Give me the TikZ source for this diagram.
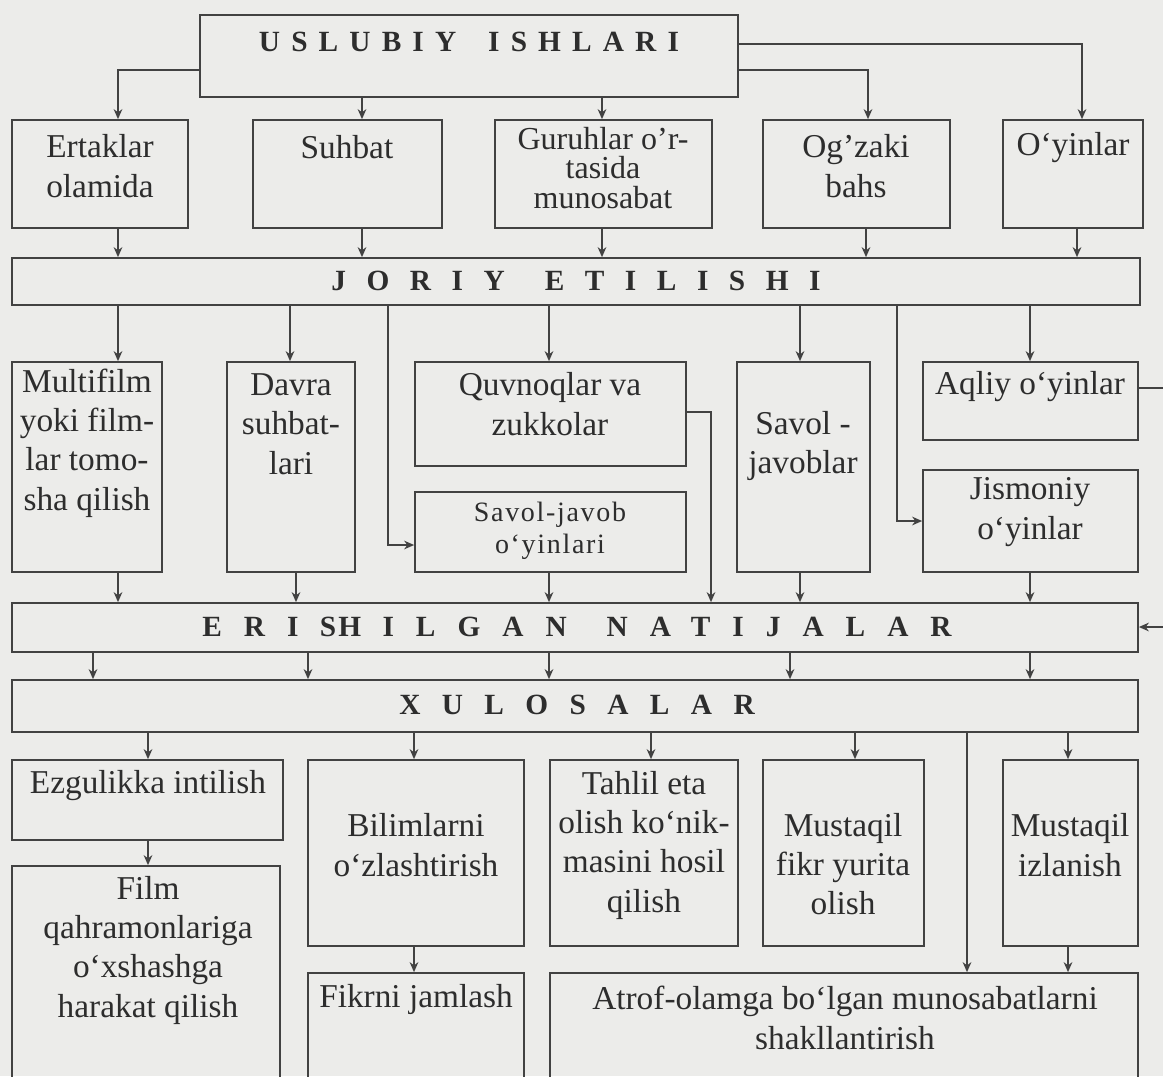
\documentclass[tikz,border=0pt]{standalone}
\usepackage{fontspec}
\setmainfont{Liberation Serif}
\usetikzlibrary{fit,arrows.meta}
\definecolor{paper}{RGB}{236,236,234}
\definecolor{ink}{RGB}{66,66,66}
\definecolor{txt}{RGB}{45,45,45}
\newcommand\ls[2]{{\addfontfeature{LetterSpace=#1}#2}}
\tikzset{every picture/.style={line width=0.75pt},
  box/.style={draw=ink, line width=1.3pt, inner sep=0pt},
  lbl/.style={align=center, text=txt, inner sep=0pt, font=\fontsize{25}{29.5}\selectfont},
  ttl/.style={text=txt, inner sep=0pt, font=\bfseries\fontsize{22}{26}\selectfont},
  ln/.style={draw=ink, line width=1.3pt},
  arr/.style={ln, -{Stealth[length=7.5pt,width=6.5pt]}}}

\begin{document}
\begin{tikzpicture}[x=0.75pt,y=0.75pt,yscale=-1]
\useasboundingbox (0,0) rectangle (1163,1076);
\clip (0,0) rectangle (1163,1076);
\fill[paper] (0,0) rectangle (1163,1076);

%Top box
\node[box, fit={(200,15) (738,97)}] (usl) {};
\node[ttl] (tusl) at (469,42) {\ls{38}{USLUBIY}\hspace{24pt}\ls{38}{ISHLARI}};

%Row 1
\node[box, fit={(12,120) (188,228)}] (ertak) {};
\node[box, fit={(253,120) (442,228)}] (suhb) {};
\node[box, fit={(495,120) (712,228)}] (guruh) {};
\node[box, fit={(763,120) (950,228)}] (ogz) {};
\node[box, fit={(1003,120) (1143,228)}] (oyin) {};
\node[lbl] (tertak) at (100,166) {Ertaklar\\olamida};
\node[lbl] (tsuhb) at (347,147) {Suhbat};
\node[lbl, font=\fontsize{24}{22}\selectfont] (tguruh) at (603,168) {Guruhlar o'r-\\tasida\\munosabat};
\node[lbl] (togz) at (856,166) {Og'zaki\\bahs};
\node[lbl] (toyin) at (1073,148) {O‘yinlar};

%Joriy etilishi
\node[box, fit={(12,258) (1140,305)}] (jor) {};
\node[ttl] (tjor) at (576,281) {\ls{70}{JORIY}\hspace{30pt}\ls{70}{ETILISHI}};

%Row 2
\node[box, fit={(12,362) (162,572)}] (multi) {};
\node[box, fit={(227,362) (355,572)}] (davra) {};
\node[box, fit={(415,362) (686,466)}] (quvn) {};
\node[box, fit={(415,492) (686,572)}] (savj) {};
\node[box, fit={(737,362) (870,572)}] (savl) {};
\node[box, fit={(923,362) (1138,440)}] (aql) {};
\node[box, fit={(923,470) (1138,572)}] (jism) {};
\node[lbl] (tmulti) at (87,443) {Multifilm\\yoki film-\\lar tomo-\\sha qilish};
\node[lbl] (tdavra) at (291,424) {Davra\\suhbat-\\lari};
\node[lbl] (tquvn) at (550,404) {Quvnoqlar va\\zukkolar};
\node[lbl, font=\fontsize{21}{24}\selectfont] (tsavj) at (550,531) {\ls{6}{Savol-javob}\\\ls{6}{o‘yinlari}};
\node[lbl] (tsavl) at (803,446) {Savol -\\javoblar};
\node[lbl] (taql) at (1030,387) {Aqliy o‘yinlar};
\node[lbl] (tjism) at (1030,512) {Jismoniy\\o‘yinlar};

%Erishilgan natijalar
\node[box, fit={(12,603) (1138,652)}] (erish) {};
\node[ttl] (terish) at (577,627) {\ls{75}{ERI}\hspace{16pt}\ls{8}{SH}\hspace{16pt}\ls{75}{ILGAN}\hspace{30pt}\ls{75}{NATIJALAR}};

%Xulosalar
\node[box, fit={(12,680) (1138,732)}] (xul) {};
\node[ttl] (txul) at (577,705) {\ls{73}{XULOSALAR}};

%Row 3
\node[box, fit={(12,760) (283,840)}] (ezgu) {};
\node[box, fit={(308,760) (524,946)}] (bilim) {};
\node[box, fit={(550,760) (738,946)}] (tahl) {};
\node[box, fit={(763,760) (924,946)}] (mfikr) {};
\node[box, fit={(1003,760) (1138,946)}] (mizl) {};
\node[lbl] (tezgu) at (148,786) {Ezgulikka intilish};
\node[lbl] (tbilim) at (416,845) {Bilimlarni\\o‘zlashtirish};
\node[lbl] (ttahl) at (644,845) {Tahlil eta\\olish ko‘nik-\\masini hosil\\qilish};
\node[lbl] (tmfikr) at (843,864) {Mustaqil\\fikr yurita\\olish};
\node[lbl] (tmizl) at (1070,845) {Mustaqil\\izlanish};

%Row 4
\node[box, fit={(12,866) (280,1095)}] (film) {};
\node[box, fit={(308,973) (524,1095)}] (fikr) {};
\node[box, fit={(550,973) (1138,1095)}] (atrof) {};
\node[lbl] (tfilm) at (148,950) {Film\\qahramonlariga\\o‘xshashga\\harakat qilish};
\node[lbl] (tfikr) at (416,999) {Fikrni jamlash};
\node[lbl] (tatrof) at (845,1018) {Atrof-olamga bo‘lgan munosabatlarni\\shakllantirish};

\coordinate (aqr) at (1163,388);
\coordinate (err) at (1163,627);

%Connectors
\draw[arr] (usl.west |- 0,70) -| (ertak.north -| 118,0);
\draw[arr] (usl.south -| 362,0) -- (suhb.north -| 362,0);
\draw[arr] (usl.south -| 602,0) -- (guruh.north -| 602,0);
\draw[arr] (usl.east |- 0,70) -| (ogz.north -| 868,0);
\draw[arr] (usl.east |- 0,44) -| (oyin.north -| 1082,0);
\foreach \n/\x in {ertak/118, suhb/362, guruh/602, ogz/866, oyin/1077}
  \draw[arr] (\n.south -| \x,0) -- (jor.north -| \x,0);
\foreach \n/\x in {multi/118, davra/290, quvn/549, savl/800, aql/1030}
  \draw[arr] (jor.south -| \x,0) -- (\n.north -| \x,0);
\draw[arr] (jor.south -| 388,0) |- (savj.west |- 0,545);
\draw[arr] (jor.south -| 897,0) |- (jism.west);
\draw[arr] (quvn.east |- 0,412) -| (erish.north -| 711,0);
\draw[ln] (aql.east |- aqr) -- (aqr);
\draw[arr] (err) -- (erish.east |- err);
\foreach \n/\x in {multi/118, davra/296, savj/549, savl/800, jism/1030}
  \draw[arr] (\n.south -| \x,0) -- (erish.north -| \x,0);
\foreach \x in {93,308,549,790,1030}
  \draw[arr] (erish.south -| \x,0) -- (xul.north -| \x,0);
\foreach \n/\x in {ezgu/148, bilim/414, tahl/651, mfikr/855, mizl/1068}
  \draw[arr] (xul.south -| \x,0) -- (\n.north -| \x,0);
\draw[arr] (xul.south -| 967,0) -- (atrof.north -| 967,0);
\draw[arr] (ezgu.south -| 148,0) -- (film.north -| 148,0);
\draw[arr] (bilim.south -| 414,0) -- (fikr.north -| 414,0);
\draw[arr] (mizl.south -| 1068,0) -- (atrof.north -| 1068,0);

\end{tikzpicture}
\end{document}
